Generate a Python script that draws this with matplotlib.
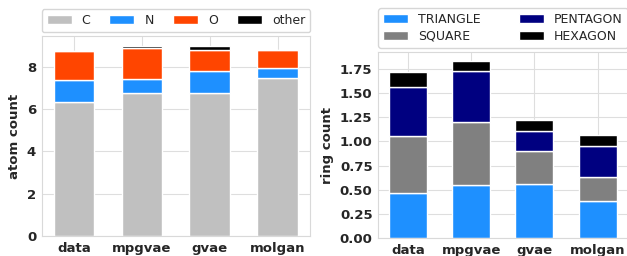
import matplotlib
matplotlib.use("Agg")
import matplotlib.pyplot as plt
import numpy as np
import seaborn as sns

models = ["data", "mpgvae", "gvae", "molgan"]

# atom counts (stacked)
atom_labels = ["C", "N", "O", "other"]
atom_C = [6.32, 6.75, 6.74, 7.46]
atom_N = [1.06, 0.68, 1.04, 0.46]
atom_O = [1.38, 1.44, 1.00, 0.86]
atom_other = [0.00, 0.13, 0.22, 0.00]
atom_colors = ["silver", "dodgerblue", "orangered", "black"]

# ring counts (stacked)
ring_labels = ["TRIANGLE", "SQUARE", "PENTAGON", "HEXAGON"]
ring_tri = [0.47, 0.55, 0.56, 0.386]
ring_sq = [0.59, 0.65, 0.34, 0.25]
ring_pent = [0.50, 0.53, 0.21, 0.32]
ring_hex = [0.155, 0.105, 0.11, 0.113]
ring_colors = ["dodgerblue", "gray", "navy", "black"]

sns.set_style("whitegrid")
plt.rcParams["font.family"] = ["DejaVu Sans"]
plt.rcParams["axes.edgecolor"] = "0.85"
plt.rcParams["grid.color"] = "0.87"

fig = plt.figure(figsize=(6.27, 2.56), dpi=100)
ax1 = fig.add_axes([0.0665, 0.078, 0.428, 0.781])
ax2 = fig.add_axes([0.603, 0.069, 0.398, 0.729])

x = np.arange(len(models))
w = 0.6

def stacked(ax, series, labels, colors):
    bottom = np.zeros(len(models))
    for vals, lab, col in zip(series, labels, colors):
        vals = np.array(vals)
        ax.bar(x, vals, w, bottom=bottom, color=col, label=lab,
               edgecolor="white", linewidth=1.0)
        bottom += vals

stacked(ax1, [atom_C, atom_N, atom_O, atom_other], atom_labels, atom_colors)
stacked(ax2, [ring_tri, ring_sq, ring_pent, ring_hex], ring_labels, ring_colors)

for ax in (ax1, ax2):
    ax.set_xticks(x)
    ax.set_xticklabels(models, fontweight="bold", fontsize=9.5)
    ax.set_xlim(-0.475, 3.475)
    for t in ax.get_yticklabels():
        t.set_fontweight("bold")
        t.set_fontsize(9.5)
    ax.tick_params(axis="both", length=0, pad=4)
    ax.set_axisbelow(True)

ax1.set_yticks([0, 2, 4, 6, 8])
ax1.set_yticklabels(["0", "2", "4", "6", "8"], fontweight="bold", fontsize=9.5)
ax2.set_yticks([0, 0.25, 0.5, 0.75, 1.0, 1.25, 1.5, 1.75])
ax2.set_yticklabels(["0.00", "0.25", "0.50", "0.75", "1.00", "1.25", "1.50", "1.75"],
                    fontweight="bold", fontsize=9.5)

ax1.set_ylabel("atom count", fontweight="bold", fontsize=9.5)
ax2.set_ylabel("ring count", fontweight="bold", fontsize=9.5)

ax1.legend(loc="lower left", bbox_to_anchor=(0, 1.02, 1, 0.1), mode="expand",
           ncol=4, borderaxespad=0, fontsize=9, frameon=True, edgecolor="0.8")
ax2.legend(loc="lower left", bbox_to_anchor=(0, 1.02, 1, 0.1), mode="expand",
           ncol=2, borderaxespad=0, fontsize=9, frameon=True, edgecolor="0.8",
           labelspacing=0.3)

fig.savefig("out.png", dpi=100)
